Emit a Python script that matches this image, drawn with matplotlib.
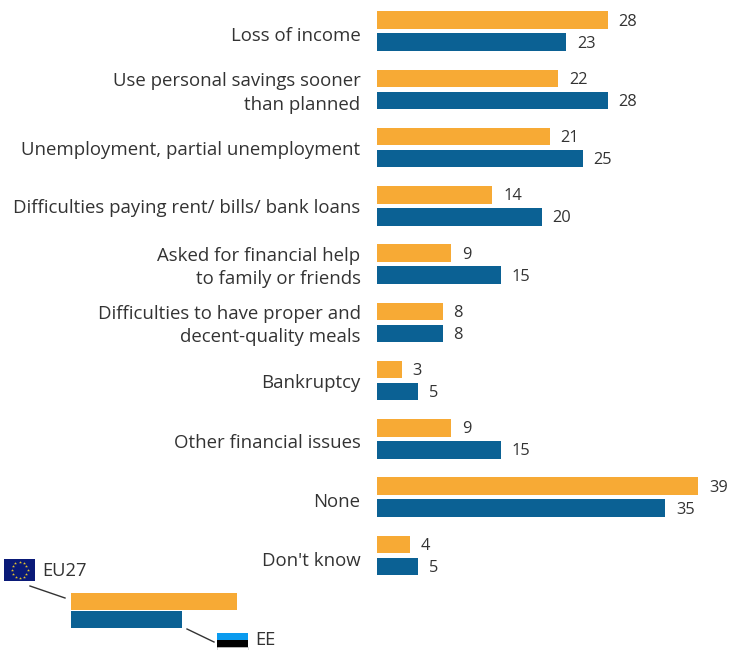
import matplotlib
matplotlib.use('Agg')
import matplotlib.pyplot as plt
from matplotlib.patches import Rectangle
import numpy as np

W, H = 738, 650
ORANGE = '#F7AA35'
BLUE = '#0B6194'
TEXT = '#333333'

categories = ['Loss of income', 'Use personal savings sooner\nthan planned',
              'Unemployment, partial unemployment', 'Difficulties paying rent/ bills/ bank loans',
              'Asked for financial help\nto family or friends',
              'Difficulties to have proper and\ndecent-quality meals',
              'Bankruptcy', 'Other financial issues', 'None', "Don't know"]
eu27 = [28, 22, 21, 14, 9, 8, 3, 9, 39, 4]
ee = [23, 28, 25, 20, 15, 8, 5, 15, 35, 5]

plt.rcParams['font.family'] = ['Open Sans', 'DejaVu Sans']

fig = plt.figure(figsize=(W / 100, H / 100), dpi=100)

# chart axes: value 0 sits at x=377 px, rows are 58.25 px apart
row_h = 58.25
unit = 8.235
x0, y_top = 377, 2
n = len(categories)
ax = fig.add_axes([x0 / W, 1 - (y_top + n * row_h) / H, (W - x0) / W, n * row_h / H])
ax.set_xlim(0, (W - x0) / unit)
ax.set_ylim(n - 0.5, -0.5)
ax.axis('off')

y = np.arange(n)
off = 11 / row_h
bar_h = 17.5 / row_h
ax.barh(y - off, eu27, height=bar_h, color=ORANGE)
ax.barh(y + off, ee, height=bar_h, color=BLUE)

# the labels aren't evenly placed in the original, px below row centre to the last baseline
label_dy = [9.9, 20.6, 7.4, 7.1, 20.2, 19.9, 7.7, 9.4, 10.2, 10.3]

for i in range(n):
    ax.text(eu27[i] + 1.3, i - off + 0.025, str(eu27[i]), va='center', ha='left', fontsize=11.8, color=TEXT)
    ax.text(ee[i] + 1.3, i + off + 0.025, str(ee[i]), va='center', ha='left', fontsize=11.8, color=TEXT)
    ax.text(-2, i + label_dy[i] / row_h, categories[i], va='baseline', ha='right',
            fontsize=13.4, color=TEXT, linespacing=1.4, clip_on=False)

# legend key drawn in pixel coordinates
leg = fig.add_axes([0, 0, 1, 1], facecolor='none')
leg.set_xlim(0, W)
leg.set_ylim(H, 0)
leg.axis('off')

leg.add_patch(Rectangle((71, 593), 166, 16.5, color=ORANGE, lw=0))
leg.add_patch(Rectangle((71, 611), 111, 16.5, color=BLUE, lw=0))
leg.plot([30, 65], [586, 598], color='#333333', lw=1)
leg.plot([187, 214], [629, 642], color='#333333', lw=1)

# EU flag
leg.add_patch(Rectangle((4, 559), 31, 22, color='#0A1A78', lw=0))
ang = np.arange(12) * np.pi / 6
leg.scatter(19.5 + 8 * np.cos(ang), 570 + 8 * np.sin(ang), s=5, marker='*', color='#E8C52A', lw=0)
leg.text(42, 570.5, 'EU27', va='center', ha='left', fontsize=13.2, color=TEXT)

# EE flag
leg.add_patch(Rectangle((217, 633), 31, 7, color='#0A9BEF', lw=0))
leg.add_patch(Rectangle((217, 640), 31, 7.5, color='black', lw=0))
leg.add_patch(Rectangle((217, 647), 31, 3, facecolor='white', edgecolor='#cccccc', lw=0.5))
# the reference clips this label at the bottom edge, kept just inside here
leg.text(255, 640, 'EE', va='center', ha='left', fontsize=13.2, color=TEXT)

fig.savefig('out.png', dpi=100)
